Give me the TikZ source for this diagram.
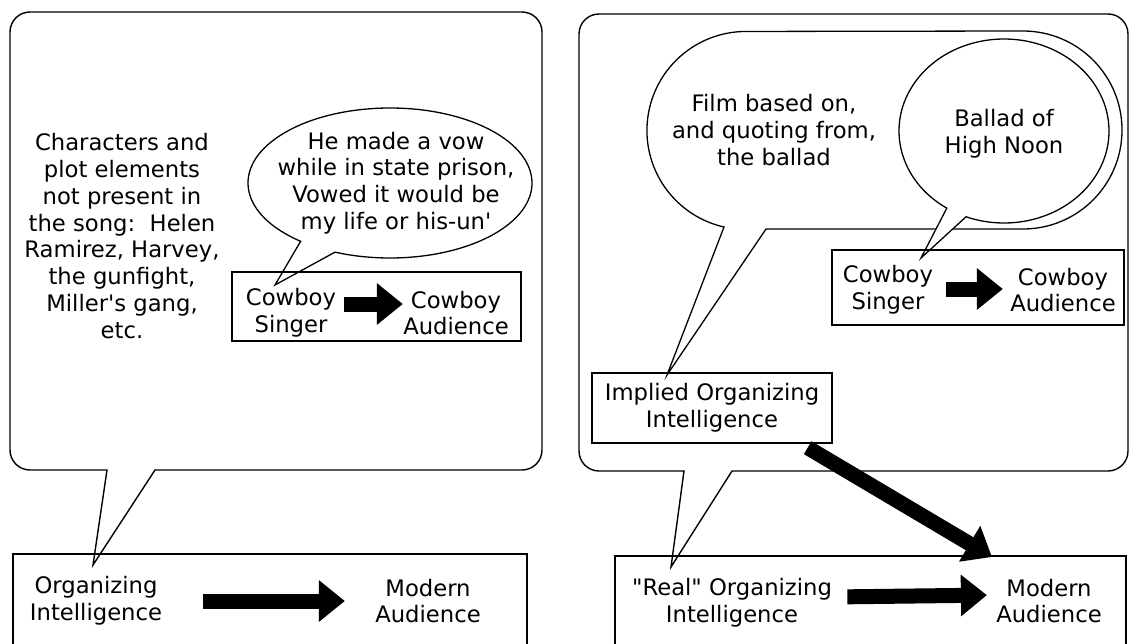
\documentclass[tikz,border=0pt]{standalone}
\usepackage{fontspec}
\setmainfont{DejaVu Sans}
\usetikzlibrary{arrows.meta,positioning}

\begin{document}
\begin{tikzpicture}[
  x=0.5pt, y=-0.5pt,
  frame/.style={draw, line width=0.7pt},
  bubble/.style={draw, line width=0.65pt, fill=white},
  txt/.style={align=center, inner sep=0pt, font=\fontsize{11.35pt}{13.4pt}\selectfont},
  fat/.style={line width=7.5pt, -{Triangle[width=20pt,length=13pt]}}
]
\useasboundingbox (0,0) rectangle (1129,643);
\clip (0,0) rectangle (1129,643);

% left panel
\draw[bubble, line width=0.7pt] (107,470) -- (30,470) arc[start angle=90, end angle=180, radius=20]
  -- (10,32) arc[start angle=180, end angle=270, radius=20]
  -- (522,12) arc[start angle=270, end angle=360, radius=20]
  -- (542,450) arc[start angle=0, end angle=90, radius=20]
  -- (155,470) -- (93,565) -- cycle;
\draw[bubble] (390,183) ++(129:142 and 75) arc[start angle=129, end angle=472.8, x radius=142, y radius=75] -- (275,285) -- cycle;
\draw[frame] (232,272) rectangle (521,341);
\draw[frame] (13,554) rectangle (527,700);

\node[txt] (extra) at (122,236) {Characters and\\plot elements\\not present in\\the song:\ \ Helen\\Ramirez, Harvey,\\the gunfight,\\Miller\textquotesingle s gang,\\etc.};
\node[txt] (vow) at (396,183) {He made a vow\\while in state prison,\\Vowed it would be\\my life or his-un\textquotesingle};
\node[txt] (singL) at (291,313) {Cowboy\\Singer};
\node[txt] (audL) at (456,313) {Cowboy\\Audience};
\node[txt] (orgL) at (96,601) {Organizing\\Intelligence};
\node[txt] (modL) at (428,601) {Modern\\Audience};

\draw[fat, shorten <=4pt] ([yshift=4.5pt]singL.east) -- ([yshift=4.5pt]audL.west);
\draw[fat, shorten <=20.5pt, shorten >=15pt] (orgL) -- (modL);

% right panel
\draw[bubble, line width=0.7pt] (684,471) -- (599,471) arc[start angle=90, end angle=180, radius=20]
  -- (579,34) arc[start angle=180, end angle=270, radius=20]
  -- (1108,14) arc[start angle=270, end angle=360, radius=20]
  -- (1128,451) arc[start angle=0, end angle=90, radius=20]
  -- (732,471) -- (671,567) -- cycle;
\draw[bubble] (724,227) arc[start angle=102.8, end angle=270, radius=99]
  -- (1023,31) arc[start angle=270, end angle=450, radius=99]
  -- (766,229) -- (667,375) -- cycle;
\draw[bubble] (1004,131) ++(123:105 and 92) arc[start angle=123, end angle=471.2, x radius=105, y radius=92] -- (921,258) -- cycle;
\draw[frame] (832,250) rectangle (1124,325);
\draw[frame] (615,556) rectangle (1126,700);

\node[txt] (film) at (774,130) {Film based on,\\and quoting from,\\the ballad};
\node[txt] (ballad) at (1004,134) {Ballad of\\High Noon};
\node[txt] (singR) at (888,290) {Cowboy\\Singer};
\node[txt] (audR) at (1063,290) {Cowboy\\Audience};
\node[txt, frame, minimum width=120pt, minimum height=35pt] (impl) at (712,408) {Implied Organizing\\Intelligence};
\node[txt] (real) at (732,603) {\textquotedbl Real\textquotedbl{} Organizing\\Intelligence};
\node[txt] (modR) at (1049,601) {Modern\\Audience};
\coordinate (hit) at (992,557);

\draw[fat, shorten <=6.5pt, shorten >=3.5pt] ([yshift=0.5pt]singR.east) -- ([yshift=0.5pt]audR.west);
\draw[fat, shorten <=7.5pt, shorten >=4.5pt] ([yshift=3pt]real.east) -- ([yshift=3pt]modR.west);
\draw[fat] ([xshift=-12.5pt,yshift=-2pt]impl.south east) -- (hit);

\end{tikzpicture}
\end{document}
